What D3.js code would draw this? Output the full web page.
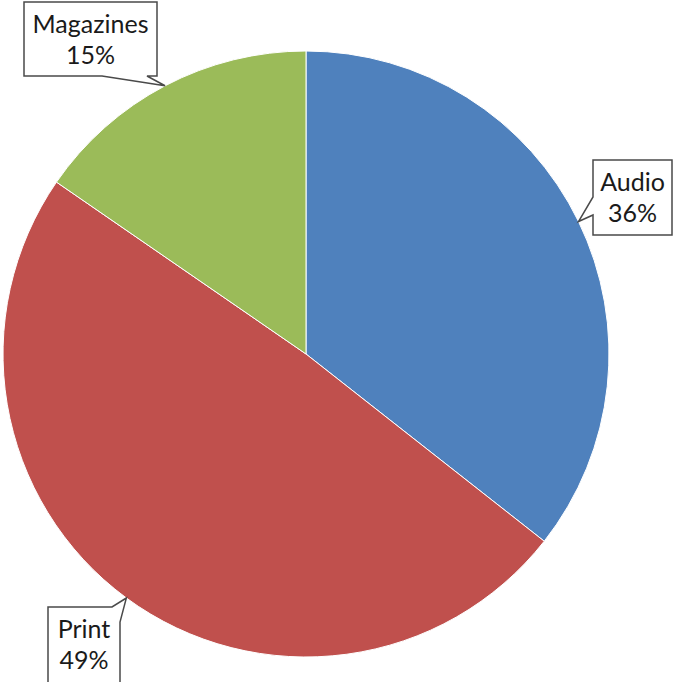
<!DOCTYPE html>
<html>
<head>
<meta charset="utf-8">
<script src="https://cdn.jsdelivr.net/npm/d3@7"></script>
<style>
  html, body { margin: 0; padding: 0; background: #fff; }
  svg { display: block; }
</style>
</head>
<body>
<svg id="chart" width="675" height="682"></svg>
<script>
const categories = ["Audio", "Print", "Magazines"];
const values = [35.6, 49.0, 15.4];
const colors = ["#4F81BD", "#C0504D", "#9BBB59"];

const W = 675, H = 682;
const cx = 306, cy = 354, R = 303;

const svg = d3.select("#chart");
const g = svg.append("g").attr("transform", `translate(${cx},${cy})`);

const total = d3.sum(values);
const pie = d3.pie().sort(null).value(d => d.v);
const data = pie(categories.map((c, i) => ({ c, v: values[i], col: colors[i] })));
const arc = d3.arc().innerRadius(0).outerRadius(R);

g.selectAll("path.slice").data(data).join("path")
  .attr("class", "slice")
  .attr("d", arc)
  .attr("fill", d => d.data.col)
  .attr("stroke", "#fff")
  .attr("stroke-width", 1);

// callout layout (box rects and wedge base points), tips on the rim at slice mid-angle
const layout = {
  "Magazines": { x0: 24, y0: 2, x1: 157, y1: 76, side: "bottom", a: 102, b: 147 },
  "Audio":     { x0: 593, y0: 160, x1: 672, y1: 235, side: "left", a: 197, b: 215 },
  "Print":     { x0: 48, y0: 607, x1: 120, y1: 700, side: "topright", a: 112, b: 622 }
};

const fmt = v => Math.round(v / total * 100) + "%";

data.forEach(d => {
  const L = layout[d.data.c];
  const mid = (d.startAngle + d.endAngle) / 2;
  const tx = cx + R * Math.sin(mid), ty = cy - R * Math.cos(mid);
  let pts;
  if (L.side === "bottom") {
    pts = [[L.x0, L.y0], [L.x1, L.y0], [L.x1, L.y1], [L.b, L.y1], [tx, ty], [L.a, L.y1], [L.x0, L.y1]];
  } else if (L.side === "left") {
    pts = [[L.x0, L.y0], [L.x1, L.y0], [L.x1, L.y1], [L.x0, L.y1], [L.x0, L.b], [tx, ty], [L.x0, L.a]];
  } else {
    pts = [[L.x0, L.y0], [L.a, L.y0], [tx, ty], [L.x1, L.b], [L.x1, L.y1], [L.x0, L.y1]];
  }
  svg.append("path")
    .attr("d", d3.line()(pts) + "Z")
    .attr("fill", "#fff")
    .attr("stroke", "#4a4a4a")
    .attr("stroke-width", 1.5)
    .attr("stroke-linejoin", "miter");

  const mx = (L.x0 + L.x1) / 2;
  const top = L.y0;
  const t = svg.append("text")
    .attr("font-family", "Lato, 'Open Sans', sans-serif")
    .attr("font-size", 25)
    .attr("fill", "#1a1a1a")
    .attr("text-anchor", "middle");
  t.append("tspan").attr("x", mx).attr("y", top + 31).text(d.data.c);
  t.append("tspan").attr("x", mx).attr("y", top + 62).text(fmt(d.data.v));
});
</script>
</body>
</html>
